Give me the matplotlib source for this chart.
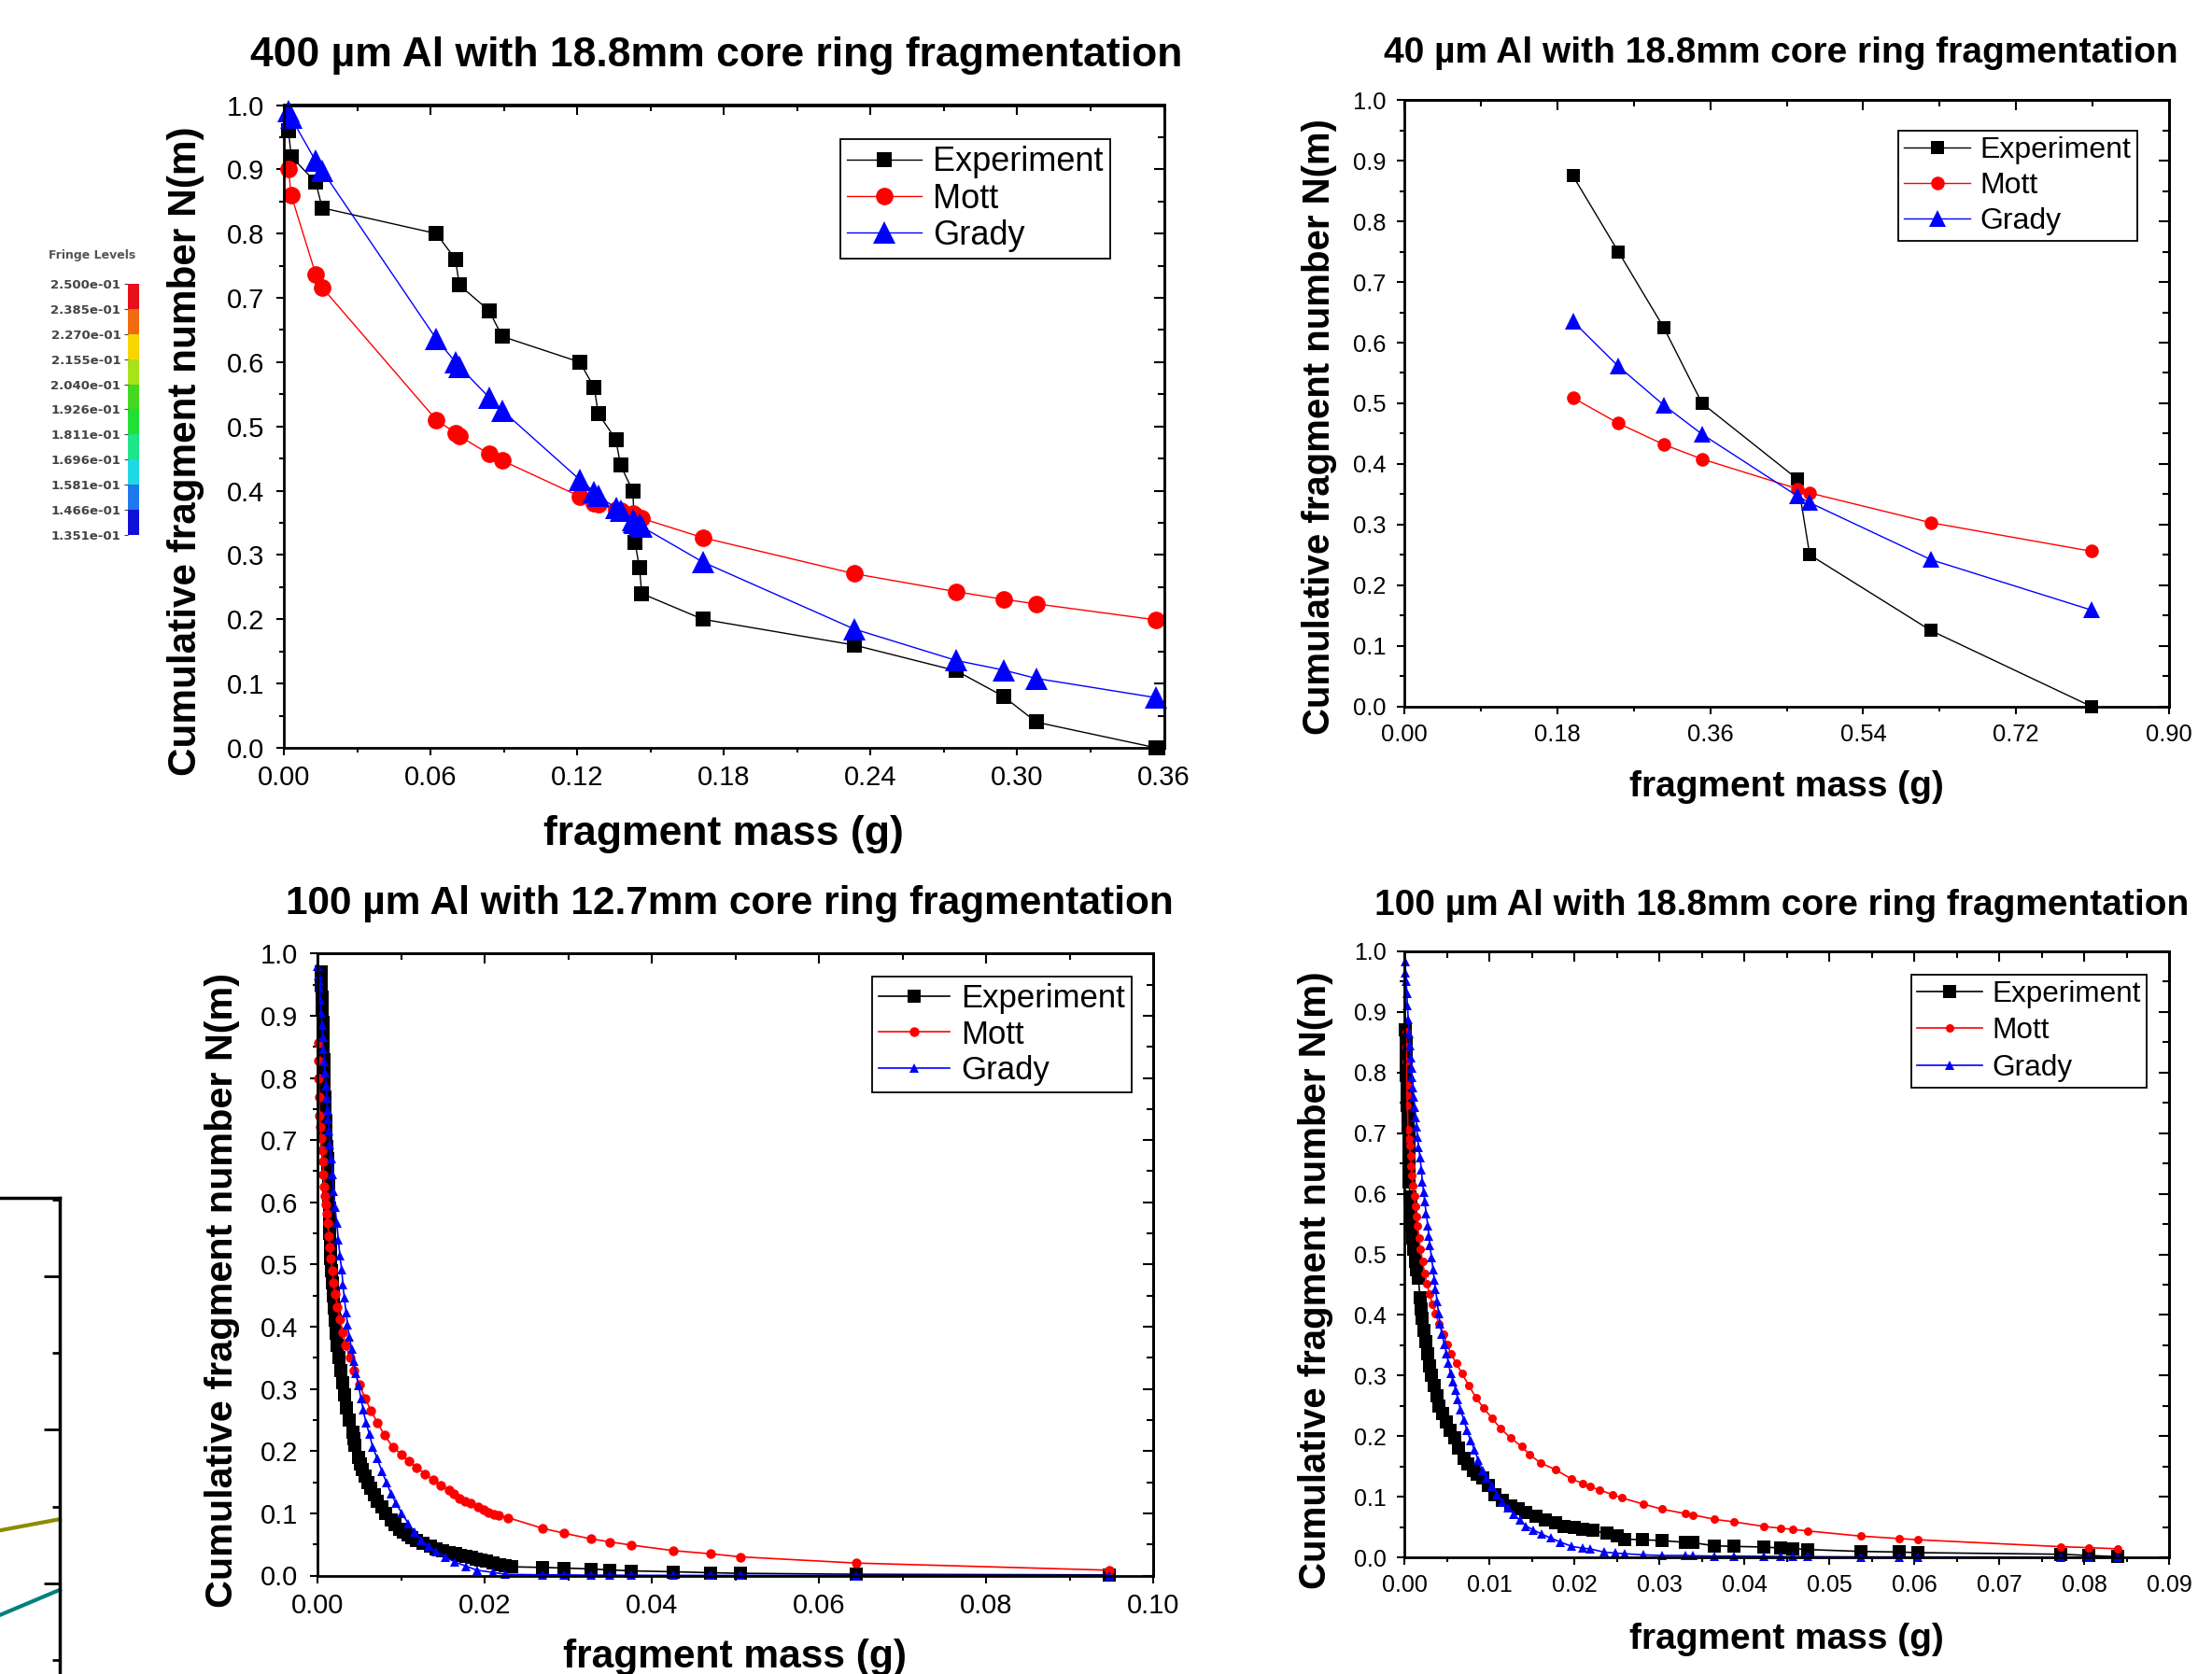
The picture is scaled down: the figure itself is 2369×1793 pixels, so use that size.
import numpy as np
import matplotlib
matplotlib.use('Agg')
import matplotlib.pyplot as plt
from matplotlib.ticker import MultipleLocator, FormatStrFormatter
from matplotlib.colors import ListedColormap

plt.rcParams['font.family'] = ['Liberation Sans', 'DejaVu Sans']

# ---------------- data ----------------
# 400 um Al, 18.8mm core
p1_mass = [0.0019, 0.0030, 0.0130, 0.0157, 0.0624, 0.0702, 0.0718, 0.0840, 0.0893,
           0.1211, 0.1270, 0.1286, 0.1358, 0.1377, 0.1427, 0.1433, 0.1436, 0.1455,
           0.1464, 0.1714, 0.2332, 0.2750, 0.2944, 0.3078, 0.3569]
p1_exp = [0.96, 0.92, 0.88, 0.84, 0.80, 0.76, 0.72, 0.68, 0.64, 0.60, 0.56, 0.52, 0.48,
          0.44, 0.40, 0.36, 0.32, 0.28, 0.24, 0.20, 0.16, 0.12, 0.08, 0.04, 0.00]
p1_mott = [0.900, 0.860, 0.737, 0.716, 0.510, 0.490, 0.485, 0.457, 0.447, 0.391, 0.381,
           0.379, 0.370, 0.369, 0.364, 0.362, 0.361, 0.358, 0.357, 0.327, 0.271, 0.243,
           0.231, 0.224, 0.199]
p1_grady = [0.990, 0.980, 0.913, 0.898, 0.636, 0.600, 0.593, 0.545, 0.525, 0.417, 0.398,
            0.392, 0.373, 0.369, 0.354, 0.351, 0.350, 0.347, 0.344, 0.289, 0.185, 0.136,
            0.121, 0.108, 0.078]

# 40 um Al, 18.8mm core
p2_mass = [0.1985, 0.2519, 0.3053, 0.3504, 0.4626, 0.4771, 0.6198, 0.8084]
p2_exp = [0.875, 0.750, 0.625, 0.500, 0.375, 0.250, 0.125, 0.000]
p2_mott = [0.509, 0.467, 0.432, 0.408, 0.359, 0.352, 0.303, 0.256]
p2_grady = [0.635, 0.561, 0.497, 0.449, 0.347, 0.336, 0.242, 0.159]

# 100 um Al, 12.7mm core
p3_exp_mass = [0.00045, 0.0005, 0.00055, 0.0006, 0.00063, 0.00066, 0.0007, 0.00073, 0.00077, 0.0008,
               0.00085, 0.00089, 0.00095, 0.0010, 0.00112, 0.00119, 0.00125, 0.0013, 0.00136, 0.0014,
               0.00144, 0.00148, 0.00153, 0.0016, 0.00165, 0.00175, 0.00186, 0.00198, 0.0021, 0.00222,
               0.0024, 0.00258, 0.0028, 0.00302, 0.00328, 0.0035, 0.0038, 0.0042, 0.0044, 0.0045,
               0.0049, 0.0051, 0.0054, 0.0057, 0.0060, 0.0064, 0.0068, 0.0072, 0.0077, 0.0082,
               0.0088, 0.0093, 0.0098, 0.0103, 0.0108, 0.0113, 0.0118, 0.0126, 0.0135, 0.0142,
               0.0150, 0.0157, 0.0165, 0.0171, 0.0178, 0.0184, 0.0190, 0.0196, 0.0202, 0.0210,
               0.0218, 0.0225, 0.0232, 0.0269, 0.0295, 0.0327, 0.0350, 0.0375, 0.0426, 0.0470,
               0.0506, 0.0645, 0.0948]
p3_exp = [0.97, 0.95, 0.93, 0.91, 0.89, 0.87, 0.85, 0.83, 0.81, 0.79,
          0.77, 0.75, 0.73, 0.71, 0.69, 0.67, 0.65, 0.63, 0.61, 0.59,
          0.57, 0.55, 0.53, 0.51, 0.49, 0.47, 0.45, 0.43, 0.41, 0.39,
          0.37, 0.35, 0.33, 0.31, 0.29, 0.27, 0.25, 0.23, 0.22, 0.21,
          0.19, 0.18, 0.17, 0.16, 0.15, 0.14, 0.13, 0.12, 0.11, 0.10,
          0.09, 0.082, 0.075, 0.070, 0.066, 0.061, 0.057, 0.052, 0.047, 0.043,
          0.040, 0.037, 0.035, 0.033, 0.031, 0.029, 0.027, 0.025, 0.023, 0.021,
          0.018, 0.016, 0.014, 0.013, 0.012, 0.0105, 0.009, 0.0075, 0.006, 0.0045,
          0.0035, 0.002, 0.001]
p3_mott_mass = [0.00007, 0.00011, 0.00015, 0.0002, 0.00026, 0.00035, 0.00045, 0.00054, 0.00063, 0.00072,
                0.00082, 0.00091, 0.0010, 0.0011, 0.0012, 0.00135, 0.0015, 0.0016, 0.00175, 0.0019,
                0.0021, 0.0024, 0.0027, 0.0030, 0.0034, 0.0039, 0.0044, 0.0050, 0.0057, 0.0064,
                0.0072, 0.0080, 0.0090, 0.0100, 0.0109, 0.0118, 0.0129, 0.0138, 0.0148, 0.0157,
                0.0163, 0.0170, 0.0177, 0.0183, 0.0192, 0.0199, 0.0205, 0.0211, 0.0217, 0.0228,
                0.0269, 0.0295, 0.0327, 0.0350, 0.0375, 0.0426, 0.0470, 0.0506, 0.0645, 0.0948]
p3_mott = [0.856, 0.828, 0.800, 0.770, 0.740, 0.721, 0.703, 0.684, 0.665, 0.645,
           0.625, 0.610, 0.596, 0.581, 0.566, 0.546, 0.527, 0.509, 0.490, 0.471,
           0.452, 0.432, 0.412, 0.391, 0.370, 0.350, 0.330, 0.307, 0.285, 0.265,
           0.245, 0.226, 0.207, 0.195, 0.184, 0.174, 0.163, 0.154, 0.145, 0.137,
           0.131, 0.124, 0.120, 0.116, 0.111, 0.106, 0.102, 0.099, 0.097, 0.093,
           0.076, 0.068, 0.059, 0.054, 0.049, 0.040, 0.035, 0.030, 0.020, 0.0085]
p3_grady_mass = [0.00002, 0.00010, 0.00018, 0.00026, 0.00035, 0.00045, 0.00054, 0.00063, 0.00072, 0.00082,
                 0.00091, 0.0010, 0.0011, 0.00119, 0.00128, 0.00138, 0.0015, 0.00164, 0.0018, 0.00194,
                 0.0021, 0.00231, 0.0025, 0.00268, 0.0029, 0.00305, 0.0032, 0.00343, 0.0036, 0.0038,
                 0.0041, 0.00436, 0.0046, 0.00492, 0.0052, 0.00547, 0.0058, 0.00622, 0.0066, 0.00715,
                 0.0077, 0.00827, 0.0088, 0.00939, 0.0101, 0.01087, 0.0116, 0.01236, 0.0133, 0.01423,
                 0.0153, 0.01646, 0.0178, 0.01907, 0.0210, 0.02242,
                 0.0269, 0.0295, 0.0327, 0.0350, 0.0375, 0.0426, 0.0470, 0.0506, 0.0645, 0.0948]
p3_grady = [0.980, 0.965, 0.955, 0.945, 0.925, 0.905, 0.885, 0.866, 0.846, 0.827,
            0.808, 0.788, 0.768, 0.749, 0.733, 0.716, 0.693, 0.670, 0.644, 0.618,
            0.592, 0.566, 0.540, 0.514, 0.491, 0.468, 0.446, 0.423, 0.403, 0.384,
            0.364, 0.344, 0.325, 0.305, 0.285, 0.266, 0.246, 0.227, 0.207, 0.188,
            0.168, 0.149, 0.132, 0.116, 0.100, 0.0835, 0.070, 0.057, 0.047, 0.038,
            0.030, 0.0215, 0.015, 0.0085, 0.005, 0.002,
            0.001, 0.001, 0.0005, 0.0005, 0.0003, 0.0002, 0.0001, 0.0001, 0.0, 0.0]

# 100 um Al, 18.8mm core
p4_exp_mass = [0.00015, 0.00018, 0.00021, 0.00024, 0.00027, 0.00029, 0.00033, 0.00037, 0.00042, 0.00048,
               0.00055, 0.00055, 0.00056, 0.00056, 0.00058, 0.00066, 0.00073, 0.00081, 0.0009, 0.00103,
               0.00115, 0.00129, 0.00147, 0.00165, 0.00184, 0.0020, 0.00213, 0.0023, 0.0025, 0.0027,
               0.00294, 0.0032, 0.00349, 0.0038, 0.00404, 0.0045, 0.00496, 0.0054, 0.00588, 0.0064,
               0.00699, 0.0075, 0.00809, 0.0086, 0.00919, 0.0099, 0.01066, 0.0115, 0.0125, 0.0134,
               0.01434, 0.0155, 0.01654, 0.0178, 0.01875, 0.0200, 0.02096, 0.0222, 0.0239, 0.0250,
               0.0259, 0.0280, 0.0303, 0.0331, 0.0340, 0.0365, 0.0388, 0.0423, 0.0443, 0.0457,
               0.0475, 0.0537, 0.0582, 0.0604, 0.0773, 0.0805, 0.0840]
p4_exp = [0.87, 0.85, 0.83, 0.81, 0.795, 0.785, 0.765, 0.745, 0.725, 0.71,
          0.70, 0.68, 0.66, 0.64, 0.62, 0.594, 0.58, 0.567, 0.548, 0.527,
          0.508, 0.488, 0.475, 0.461, 0.428, 0.41, 0.395, 0.375, 0.356, 0.336,
          0.316, 0.30, 0.283, 0.266, 0.25, 0.237, 0.223, 0.21, 0.197, 0.18,
          0.164, 0.154, 0.144, 0.137, 0.131, 0.118, 0.104, 0.094, 0.0846, 0.08,
          0.0747, 0.068, 0.0615, 0.057, 0.0516, 0.049, 0.0463, 0.044, 0.0397, 0.035,
          0.030, 0.029, 0.0277, 0.0245, 0.024, 0.019, 0.018, 0.017, 0.0153, 0.0143,
          0.0128, 0.0097, 0.0087, 0.0077, 0.005, 0.003, 0.001]
p4_mott_mass = [0.00018, 0.00022, 0.00026, 0.00029, 0.00033, 0.00037, 0.00043, 0.00055, 0.00063, 0.00072,
                0.00081, 0.00092, 0.00103, 0.00116, 0.00129, 0.00142, 0.00154, 0.00172, 0.00191, 0.00215,
                0.00239, 0.00265, 0.00294, 0.0033, 0.00368, 0.0041, 0.0046, 0.0050, 0.00551, 0.0061,
                0.0068, 0.0076, 0.00846, 0.0093, 0.01029, 0.0113, 0.0125, 0.0138, 0.0147, 0.0160,
                0.0178, 0.0197, 0.0210, 0.0219, 0.0230, 0.0245, 0.0256, 0.0281, 0.0303, 0.0331,
                0.0340, 0.0365, 0.0388, 0.0423, 0.0443, 0.0457, 0.0475, 0.0537, 0.0582, 0.0604,
                0.0773, 0.0805, 0.0840]
p4_mott = [0.868, 0.843, 0.818, 0.779, 0.762, 0.745, 0.706, 0.690, 0.679, 0.662,
           0.646, 0.630, 0.613, 0.596, 0.580, 0.563, 0.547, 0.527, 0.508, 0.488,
           0.468, 0.452, 0.435, 0.418, 0.402, 0.385, 0.369, 0.352, 0.336, 0.320,
           0.303, 0.283, 0.263, 0.247, 0.230, 0.213, 0.197, 0.183, 0.170, 0.156,
           0.1446, 0.129, 0.122, 0.1165, 0.111, 0.1035, 0.098, 0.088, 0.0795, 0.072,
           0.070, 0.0626, 0.0585, 0.051, 0.048, 0.046, 0.0435, 0.035, 0.031, 0.029,
           0.0175, 0.016, 0.014]
p4_grady_mass = [0.00011, 0.00016, 0.00022, 0.0003, 0.00037, 0.00046, 0.00055, 0.00065, 0.00074, 0.00083,
                 0.00092, 0.0010, 0.0011, 0.00123, 0.00136, 0.00145, 0.00154, 0.0017, 0.00184, 0.0020,
                 0.00213, 0.00226, 0.00239, 0.00258, 0.00276, 0.0029, 0.00301, 0.0032, 0.00338, 0.00352,
                 0.00368, 0.00386, 0.00404, 0.0042, 0.00441, 0.0047, 0.00496, 0.0052, 0.00544, 0.00575,
                 0.00607, 0.0063, 0.00662, 0.0070, 0.00735, 0.0078, 0.00827, 0.0087, 0.00919, 0.0097,
                 0.01029, 0.0109, 0.01158, 0.0122, 0.01287, 0.0136, 0.01434, 0.0152, 0.01618, 0.0172,
                 0.01838, 0.0197, 0.02096, 0.0219, 0.0235, 0.0248, 0.0259, 0.0281, 0.0303, 0.0331,
                 0.0340, 0.0365, 0.0388, 0.0423, 0.0443, 0.0457, 0.0475, 0.0537, 0.0582, 0.0604,
                 0.0773, 0.0805, 0.0840]
p4_grady = [0.983, 0.965, 0.950, 0.930, 0.911, 0.888, 0.864, 0.845, 0.825, 0.808,
            0.792, 0.775, 0.759, 0.742, 0.726, 0.710, 0.693, 0.676, 0.660, 0.640,
            0.620, 0.603, 0.587, 0.567, 0.547, 0.530, 0.514, 0.495, 0.475, 0.458,
            0.4415, 0.422, 0.402, 0.385, 0.369, 0.352, 0.336, 0.320, 0.303, 0.290,
            0.276, 0.260, 0.243, 0.227, 0.210, 0.193, 0.177, 0.160, 0.144, 0.131,
            0.1176, 0.104, 0.091, 0.081, 0.0714, 0.061, 0.0516, 0.045, 0.0383, 0.032,
            0.0251, 0.018, 0.0152, 0.0137, 0.0086, 0.007, 0.006, 0.004, 0.003, 0.003,
            0.0025, 0.002, 0.002, 0.0015, 0.0013, 0.0012, 0.001, 0.0007, 0.0005, 0.0005,
            0.0002, 0.0001, 0.0001]

titles = ['400 µm Al with 18.8mm core ring fragmentation',
          '40 µm Al with 18.8mm core ring fragmentation',
          '100 µm Al with 12.7mm core ring fragmentation',
          '100 µm Al with 18.8mm core ring fragmentation']
series_labels = ['Experiment', 'Mott', 'Grady']

fringe_levels = [0.2500, 0.2385, 0.2270, 0.2155, 0.2040, 0.1926, 0.1811, 0.1696, 0.1581, 0.1466, 0.1351]
fringe_colors = ['#1010d8', '#1f78ee', '#1fd8e6', '#1ee48a', '#22e033', '#44d820',
                 '#a8e21a', '#f8d400', '#f06a10', '#e8101a']

# pieces of a neighbouring chart cut by the image edge
part_x = [0.0, 1.0]
part_olive = [1.345, 1.418]
part_teal = [0.794, 0.958]

W, H = 2369, 1793
fig = plt.figure(figsize=(W / 100, H / 100), dpi=100)


def px_axes(left, top, right, bottom):
    return fig.add_axes([left / W, 1 - bottom / H, (right - left) / W, (bottom - top) / H])


def fig_text(x, y, s, **kw):
    fig.text(x / W, 1 - y / H, s, ha='center', va='center', **kw)


def setup_axes(ax, xmax, xmajor, tick_fs, xpad, ypad):
	ax.set_xlim(0, xmax)
	ax.set_ylim(0, 1.0)
	ax.xaxis.set_major_locator(MultipleLocator(xmajor))
	ax.xaxis.set_minor_locator(MultipleLocator(xmajor / 2))
	ax.yaxis.set_major_locator(MultipleLocator(0.1))
	ax.yaxis.set_minor_locator(MultipleLocator(0.05))
	ax.xaxis.set_major_formatter(FormatStrFormatter('%.2f'))
	ax.yaxis.set_major_formatter(FormatStrFormatter('%.1f'))
	ax.tick_params(which='both', direction='out', top=False, right=False, width=1.5, labelsize=tick_fs)
	ax.tick_params(which='major', length=6)
	ax.tick_params(which='minor', length=3.5)
	ax.tick_params(axis='x', pad=xpad)
	ax.tick_params(axis='y', pad=ypad)
	for s in ax.spines.values():
		s.set_linewidth(2)
	secx = ax.secondary_xaxis('top')
	secx.xaxis.set_major_locator(MultipleLocator(xmajor))
	secx.xaxis.set_minor_locator(MultipleLocator(xmajor / 2))
	secx.tick_params(which='both', direction='in', width=1.5, labeltop=False, labelbottom=False)
	secx.tick_params(which='major', length=8)
	secx.tick_params(which='minor', length=5)
	secx.spines['top'].set_linewidth(2)
	secy = ax.secondary_yaxis('right')
	secy.yaxis.set_major_locator(MultipleLocator(0.1))
	secy.yaxis.set_minor_locator(MultipleLocator(0.05))
	secy.tick_params(which='both', direction='in', width=1.5, labelright=False, labelleft=False)
	secy.tick_params(which='major', length=8)
	secy.tick_params(which='minor', length=5)
	secy.spines['right'].set_linewidth(2)


def draw_series(ax, xs, ys, ms, lw):
	styles = [('s', 'black'), ('o', 'red'), ('^', 'blue')]
	for (x, y), (mk, col), lab, size in zip(zip(xs, ys), styles, series_labels, ms):
		ax.plot(x, y, marker=mk, color=col, markersize=size, linewidth=lw,
		        markeredgewidth=0, label=lab, clip_on=False)


def add_legend(ax, x, y, fs, spacing):
	leg = ax.legend(loc='upper left', bbox_to_anchor=(x / W, 1 - y / H), bbox_transform=fig.transFigure,
	                fancybox=False, edgecolor='black', framealpha=1, borderaxespad=0,
	                handlelength=2.2, handletextpad=0.35, borderpad=0.2, labelspacing=spacing,
	                fontsize=fs, numpoints=1)
	leg.get_frame().set_linewidth(1.3)


# panel 1
ax1 = px_axes(304, 112.5, 1246.5, 801)
setup_axes(ax1, 0.36, 0.06, 21, 7, 9)
draw_series(ax1, [p1_mass] * 3, [p1_exp, p1_mott, p1_grady], [11.5, 13.5, 17], 1.0)
add_legend(ax1, 900, 149, 26, 0.12)
fig_text(767, 60, titles[0], fontsize=32, fontweight='bold')
fig_text(775, 893, 'fragment mass (g)', fontsize=32, fontweight='bold')
fig_text(199, 483, 'Cumulative fragment number N(m)', fontsize=30.4, fontweight='bold', rotation=90)

# panel 2
ax2 = px_axes(1504, 107.3, 2323, 756.6)
setup_axes(ax2, 0.90, 0.18, 18.4, 7, 8)
draw_series(ax2, [p2_mass] * 3, [p2_exp, p2_mott, p2_grady], [10, 10.5, 13], 1.0)
add_legend(ax2, 2033, 139.5, 23, 0.25)
fig_text(1907, 57, titles[1], fontsize=28, fontweight='bold')
fig_text(1913, 843, 'fragment mass (g)', fontsize=28, fontweight='bold')
fig_text(1413, 457, 'Cumulative fragment number N(m)', fontsize=28.9, fontweight='bold', rotation=90)

# panel 3
ax3 = px_axes(340, 1021.3, 1235, 1687.5)
setup_axes(ax3, 0.10, 0.02, 21, 7, 9)
draw_series(ax3, [p3_exp_mass, p3_mott_mass, p3_grady_mass], [p3_exp, p3_mott, p3_grady],
            [10.5, 7.5, 7.5], 1.2)
add_legend(ax3, 934, 1046, 25, 0.16)
fig_text(781, 968, titles[2], fontsize=30.5, fontweight='bold')
fig_text(787, 1775, 'fragment mass (g)', fontsize=30.6, fontweight='bold')
fig_text(238, 1382, 'Cumulative fragment number N(m)', fontsize=29.8, fontweight='bold', rotation=90)

# panel 4
ax4 = px_axes(1504, 1019, 2323, 1668)
setup_axes(ax4, 0.09, 0.01, 18, 7, 8)
draw_series(ax4, [p4_exp_mass, p4_mott_mass, p4_grady_mass], [p4_exp, p4_mott, p4_grady],
            [9.5, 6.5, 6.5], 1.2)
add_legend(ax4, 2047, 1043.5, 22.7, 0.3)
fig_text(1908, 970, titles[3], fontsize=28, fontweight='bold')
fig_text(1913, 1756, 'fragment mass (g)', fontsize=28, fontweight='bold')
fig_text(1409, 1371, 'Cumulative fragment number N(m)', fontsize=29, fontweight='bold', rotation=90)

# fringe level bar
axf = px_axes(137, 304, 149, 573)
levels = np.array(fringe_levels[::-1])
axf.pcolormesh([0, 1], levels, np.arange(10).reshape(-1, 1), cmap=ListedColormap(fringe_colors),
               vmin=-0.5, vmax=9.5)
axf.set_ylim(levels[0], levels[-1])
axf.set_xticks([])
axf.set_yticks(fringe_levels)
axf.set_yticklabels(['%.3e' % v for v in fringe_levels], fontsize=9.5, color='#444444',
                    family='DejaVu Sans', fontweight='bold')
axf.tick_params(axis='y', length=3, width=0.8, pad=2.5, colors='#444444')
for s in axf.spines.values():
	s.set_visible(False)
fig_text(99, 273, 'Fringe Levels', fontsize=9, color='#555555', fontweight='bold', family='DejaVu Sans')

# cut-off chart at the lower left edge
axp = px_axes(0, 1283, 64, 1793)
axp.set_xlim(0, 1)
axp.set_ylim(0.41, 3.51)
axp.plot(part_x, part_olive, color='#8c8c00', linewidth=3, clip_on=False)
axp.plot(part_x, part_teal, color='#008080', linewidth=3, clip_on=False)
axp.spines['left'].set_visible(False)
axp.spines['bottom'].set_visible(False)
axp.spines['top'].set_linewidth(2.5)
axp.spines['right'].set_linewidth(2.5)
axp.set_xticks([])
axp.yaxis.tick_right()
axp.yaxis.set_major_locator(MultipleLocator(1))
axp.yaxis.set_minor_locator(MultipleLocator(0.5))
axp.tick_params(axis='y', which='both', direction='in', labelright=False, width=2)
axp.tick_params(axis='y', which='major', length=12)
axp.tick_params(axis='y', which='minor', length=6)

fig.savefig('out.png', dpi=100)
